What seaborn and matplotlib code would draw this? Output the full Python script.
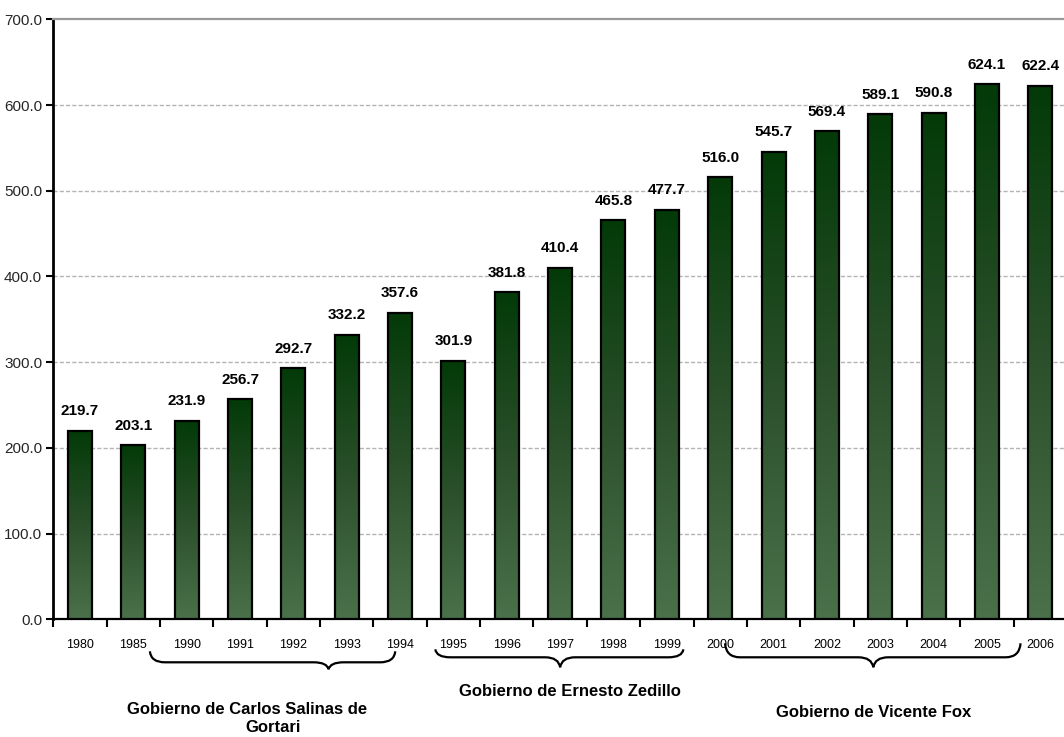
import numpy as np
import pandas as pd
import matplotlib
matplotlib.use("Agg")
import matplotlib.pyplot as plt
from matplotlib import font_manager
from matplotlib.path import Path
from matplotlib.patches import PathPatch
from matplotlib.colors import LinearSegmentedColormap
import matplotlib.transforms as mtransforms
import seaborn as sns

# Data
years = ["1980", "1985", "1990", "1991", "1992", "1993", "1994", "1995", "1996",
         "1997", "1998", "1999", "2000", "2001", "2002", "2003", "2004", "2005", "2006"]
values = [219.7, 203.1, 231.9, 256.7, 292.7, 332.2, 357.6, 301.9, 381.8,
          410.4, 465.8, 477.7, 516.0, 545.7, 569.4, 589.1, 590.8, 624.1, 622.4]
y_ticks = [0, 100, 200, 300, 400, 500, 600, 700]

# Administrations: (label lines, first category, last category)
periods = [
    (["Gobierno de Carlos Salinas de", "Gortari"], "1990", "1994"),
    (["Gobierno de Ernesto Zedillo"], "1995", "1999"),
    (["Gobierno de Vicente Fox"], "2001", "2005"),
]

sns.set_theme(style="white")
available = {f.name for f in font_manager.fontManager.ttflist}
narrow = "Liberation Sans Narrow" if "Liberation Sans Narrow" in available else "Liberation Sans"
plt.rcParams["font.family"] = ["Liberation Sans", "DejaVu Sans"]

df = pd.DataFrame({"year": years, "value": values})

fig = plt.figure(figsize=(10.64, 7.37), dpi=100)
ax = fig.add_axes([0.0501, 0.1597, 0.9527, 0.8141])

sns.barplot(data=df, x="year", y="value", color="#2f5a2f", width=0.45,
            edgecolor="black", linewidth=1.6, ax=ax, zorder=3)

# Vertical dark-to-light green gradient inside each bar
cmap = LinearSegmentedColormap.from_list("bar_green", ["#033a08", "#2a4f2a", "#4b714b"])
grad = np.linspace(0, 1, 256).reshape(-1, 1)
for patch in ax.patches:
    x0, y0 = patch.get_x(), patch.get_y()
    w, h = patch.get_width(), patch.get_height()
    im = ax.imshow(grad, cmap=cmap, aspect="auto", origin="upper",
                   extent=[x0, x0 + w, y0, y0 + h], zorder=3.5, interpolation="bilinear")
    im.set_clip_path(patch)
    patch.set_facecolor("none")
    patch.set_zorder(4)

ax.set_xlim(-0.5, len(years) - 0.5)
ax.set_ylim(0, 700)
ax.set_yticks(y_ticks)
ax.set_yticklabels([f"{v:.1f}" for v in y_ticks], fontfamily=narrow, fontsize=11)
ax.set_xlabel("")
ax.set_ylabel("")

# Grid
for v in y_ticks[1:-1]:
    ax.axhline(v, color="#b4b4b4", linestyle=(0, (3, 1.5)), linewidth=1.0, zorder=1)

# Spines
ax.spines["left"].set_color("black")
ax.spines["left"].set_linewidth(2.0)
ax.spines["bottom"].set_color("black")
ax.spines["bottom"].set_linewidth(1.6)
ax.spines["top"].set_color("#999999")
ax.spines["top"].set_linewidth(1.6)
ax.spines["right"].set_visible(False)

# Ticks: x ticks marks sit between the categories
ax.tick_params(axis="y", direction="out", length=5, width=1.5, color="black", pad=3, left=True)
ax.set_xticks(range(len(years)))
ax.set_xticklabels(years, fontsize=9)
ax.tick_params(axis="x", which="major", length=0, pad=14, labelcolor="black")
ax.set_xticks(np.arange(-0.5, len(years), 1.0), minor=True)
ax.tick_params(axis="x", which="minor", direction="out", length=6, width=1.5,
               color="black", bottom=True)

# Value labels
for container in ax.containers:
    ax.bar_label(container, fmt="%.1f", padding=9, fontsize=11,
                 fontweight="bold", fontfamily=narrow, color="black")


def brace(ax, xa, xb, xm, y_end, y_mid, y_tip, r=0.28):
    """Curly brace spanning data x from xa to xb, tip at xm; y in axes fraction."""
    verts = [
        (xa, y_end), (xa + 0.02, y_mid), (xa + r, y_mid),
        (xm - r, y_mid),
        (xm - 0.03, y_mid), (xm, y_tip),
        (xm + 0.03, y_mid), (xm + r, y_mid),
        (xb - r, y_mid),
        (xb - 0.02, y_mid), (xb, y_end),
    ]
    codes = [Path.MOVETO, Path.CURVE3, Path.CURVE3, Path.LINETO,
             Path.CURVE3, Path.CURVE3, Path.CURVE3, Path.CURVE3,
             Path.LINETO, Path.CURVE3, Path.CURVE3]
    trans = mtransforms.blended_transform_factory(ax.transData, ax.transAxes)
    ax.add_patch(PathPatch(Path(verts, codes), transform=trans, fill=False,
                           edgecolor="black", linewidth=1.6, clip_on=False))


def fy(px):
    # pixels below the axes bottom edge -> axes fraction
    return -px / 600.0

idx = {y: i for i, y in enumerate(years)}
brace_geom = [
    (idx["1990"] - 0.69, idx["1994"] - 0.09, idx["1992"] + 0.66, fy(32), fy(43), fy(50)),
    (idx["1995"] - 0.34, idx["1999"] + 0.31, idx["1997"], fy(30), fy(38), fy(48)),
    (idx["2001"] - 0.91, idx["2005"] + 0.63, idx["2003"] - 0.13, fy(24), fy(38), fy(48)),
]
label_geom = [
    [(3.13, fy(90)), (3.61, fy(108))],
    [(9.19, fy(72))],
    [(14.87, fy(93))],
]
trans = mtransforms.blended_transform_factory(ax.transData, ax.transAxes)
for (lines, _, _), (xa, xb, xm, ye, ymid, ytip), pos in zip(periods, brace_geom, label_geom):
    brace(ax, xa, xb, xm, ye, ymid, ytip)
    for text, (tx, ty) in zip(lines, pos):
        ax.text(tx, ty, text, transform=trans, ha="center", va="center",
                fontsize=12, fontweight="bold", color="black", clip_on=False)

fig.savefig("out.png", dpi=100)
